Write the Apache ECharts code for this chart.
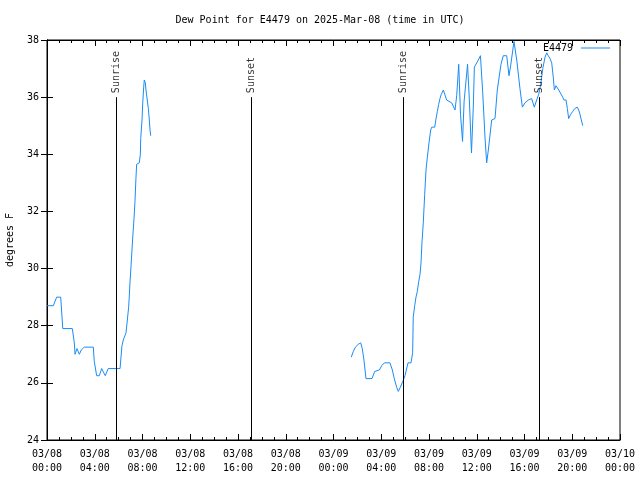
<!DOCTYPE html>
<html>
<head>
<meta charset="utf-8">
<script src="https://cdn.jsdelivr.net/npm/echarts@6/dist/echarts.min.js"></script>
<style>html,body{margin:0;padding:0;background:#fff}#c{width:640px;height:480px}</style>
</head>
<body>
<div id="c"></div>
<script>
// Hours since 2025-03-08 00:00 UTC
var hours1 = [0.00,0.53,0.81,1.15,1.32,2.12,2.29,2.35,2.51,2.71,2.87,3.12,3.88,3.96,4.16,4.38,4.58,4.88,5.13,6.12,6.28,6.39,6.53,6.62,6.73,6.84,6.89,6.95,7.04,7.12,7.20,7.29,7.37,7.45,7.51,7.73,7.82,7.85,7.96,8.02,8.10,8.15,8.24,8.29,8.40,8.49,8.57,8.63,8.69];
var dew1   = [28.7,28.7,29.0,29.0,27.9,27.9,27.4,27.0,27.2,27.0,27.15,27.25,27.25,26.75,26.25,26.25,26.5,26.25,26.5,26.5,27.3,27.5,27.5,27.75,28.2,28.65,29.0,29.5,30.1,30.65,31.2,31.75,32.35,33.15,33.65,33.7,34.0,34.55,35.2,35.8,36.35,36.6,36.5,36.25,35.9,35.6,35.2,34.85,34.65];
var hours2 = [25.49,25.66,25.83,26.08,26.28,26.41,26.55,26.72,27.23,27.45,27.56,27.84,28.04,28.26,28.73,28.93,29.09,29.29,29.43,29.60,29.80,29.99,30.24,30.49,30.63,30.68,30.80,30.91,31.02,31.14,31.25,31.33,31.41,31.52,31.64,31.75,31.86,32.03,32.14,32.23,32.48,32.59,32.70,32.81,32.92,33.03,33.20,33.48,33.90,34.18,34.32,34.49,34.64,34.81,34.94,35.23,35.38,35.56,35.71,35.80,36.13,36.31,36.50,36.69,36.83,36.97,37.25,37.53,37.72,38.03,38.22,38.51,38.70,38.84,39.12,39.35,39.62,39.82,40.04,40.32,40.60,40.82,41.02,41.19,41.36,41.53,41.72,41.86,41.99,42.14,42.28,42.41,42.50,42.64,42.75,42.87,43.03,43.20,43.31,43.48,43.59,43.70,43.87,44.04,44.21,44.42,44.54,44.65,44.76,44.88];
var dew2   = [26.9,27.1,27.25,27.35,27.4,27.2,26.8,26.15,26.15,26.4,26.45,26.45,26.6,26.7,26.7,26.45,26.15,25.85,25.7,25.85,26.05,26.25,26.7,26.7,27.05,28.3,28.7,29.0,29.2,29.55,29.8,30.2,30.9,31.6,32.6,33.45,33.9,34.5,34.85,34.95,34.95,35.25,35.5,35.75,35.95,36.1,36.25,35.9,35.8,35.55,36.05,37.15,35.4,34.45,35.85,37.15,35.9,34.05,35.65,37.05,37.3,37.45,36.15,34.6,33.7,34.15,35.2,35.25,36.25,37.15,37.45,37.45,36.75,37.1,37.95,37.3,36.3,35.65,35.8,35.9,35.95,35.65,35.9,36.1,36.45,37.0,37.4,37.55,37.45,37.35,37.2,36.7,36.25,36.4,36.45,36.25,36.2,36.0,35.9,35.9,35.6,35.25,35.4,35.5,35.6,35.65,35.55,35.4,35.2,35.0];
var sunHours  = [5.78, 17.09, 29.82, 41.21];
var sunLabels = ['Sunrise', 'Sunset', 'Sunrise', 'Sunset'];
var sunTop = 36;
var xTickLabels = ['03/08\n00:00','03/08\n04:00','03/08\n08:00','03/08\n12:00','03/08\n16:00','03/08\n20:00','03/09\n00:00','03/09\n04:00','03/09\n08:00','03/09\n12:00','03/09\n16:00','03/09\n20:00','03/10\n00:00'];
var yTicks = [24,26,28,30,32,34,36,38];

var lineData = [];
for (var i = 0; i < hours1.length; i++) lineData.push([hours1[i], dew1[i]]);
lineData.push([ (hours1[hours1.length-1]+hours2[0])/2, null ]);
for (var j = 0; j < hours2.length; j++) lineData.push([hours2[j], dew2[j]]);

var markData = sunHours.map(function (h) { return [{coord: [h, yTicks[0]]}, {coord: [h, sunTop]}]; });
var labelData = sunHours.map(function (h, k) { return {value: [h, sunTop], name: sunLabels[k]}; });

var FONT = 'DejaVu Sans Mono';
var BLUE = '#1a8cf5';
var chart = echarts.init(document.getElementById('c'), null, {renderer: 'canvas'});
var axisCommon = {
  axisLine: {show: true, lineStyle: {color: '#000', width: 1}},
  splitLine: {show: false}
};
chart.setOption({
  animation: false,
  backgroundColor: '#fff',
  textStyle: {fontFamily: FONT},
  title: {
    text: 'Dew Point for E4479 on 2025-Mar-08 (time in UTC)',
    left: 'center', top: 10,
    textStyle: {fontFamily: FONT, fontSize: 10, fontWeight: 'normal', color: '#000'}
  },
  legend: {
    data: ['E4479'], right: 30, top: 43, align: 'right', orient: 'horizontal',
    itemWidth: 29, itemHeight: 1, itemGap: 5, padding: 0,
    icon: 'rect',
    itemStyle: {color: BLUE},
    textStyle: {fontFamily: FONT, fontSize: 10, color: '#000', padding: [0, 3, 0, 0]}
  },
  grid: {left: 47, right: 20, top: 40, bottom: 40, containLabel: false, outerBoundsMode: 'none',
         show: true, borderColor: '#000', borderWidth: 1, backgroundColor: 'transparent'},
  xAxis: [
    Object.assign({}, axisCommon, {
      type: 'value', min: 0, max: 48, interval: 4, position: 'bottom',
      axisTick: {show: true, inside: true, length: 6, lineStyle: {color: '#000'}},
      minorTick: {show: true, splitNumber: 4, length: 3, lineStyle: {color: '#000'}},
      axisLabel: {fontFamily: FONT, fontSize: 10, color: '#000', margin: 7, lineHeight: 14,
        formatter: function (v) { return xTickLabels[Math.round(v / 4)]; }}
    }),
    Object.assign({}, axisCommon, {
      type: 'value', min: 0, max: 48, interval: 4, position: 'top',
      axisTick: {show: true, inside: true, length: 6, lineStyle: {color: '#000'}},
      minorTick: {show: true, splitNumber: 4, length: 3, lineStyle: {color: '#000'}},
      axisLabel: {show: false}
    })
  ],
  yAxis: [
    Object.assign({}, axisCommon, {
      type: 'value', min: yTicks[0], max: yTicks[yTicks.length-1], interval: 2, position: 'left',
      name: 'degrees F', nameLocation: 'middle', nameGap: 32, nameRotate: 90,
      nameTextStyle: {fontFamily: FONT, fontSize: 10, color: '#000'},
      axisTick: {show: true, inside: true, length: 6, lineStyle: {color: '#000'}},
      axisLabel: {fontFamily: FONT, fontSize: 10, color: '#000', margin: 8}
    }),
    Object.assign({}, axisCommon, {
      type: 'value', min: yTicks[0], max: yTicks[yTicks.length-1], interval: 2, position: 'right',
      axisTick: {show: true, inside: true, length: 6, lineStyle: {color: '#000'}},
      axisLabel: {show: false}
    })
  ],
  series: [
    {
      name: 'E4479', type: 'line', data: lineData, showSymbol: false, symbol: 'none',
      connectNulls: false, lineStyle: {color: BLUE, width: 1}, itemStyle: {color: BLUE},
      z: 3,
      markLine: {
        silent: true, symbol: ['none', 'none'], animation: false,
        lineStyle: {color: '#000', width: 1, type: 'solid'},
        label: {show: false},
        data: markData
      }
    },
    {
      name: 'sun', type: 'scatter', data: labelData, symbolSize: 0, silent: true, z: 4,
      label: {
        show: true, position: 'top', distance: 4, rotate: 90, align: 'left', verticalAlign: 'middle',
        fontFamily: FONT, fontSize: 10, color: '#000',
        formatter: function (p) { return p.name; }
      }
    }
  ]
});
</script>
</body>
</html>
